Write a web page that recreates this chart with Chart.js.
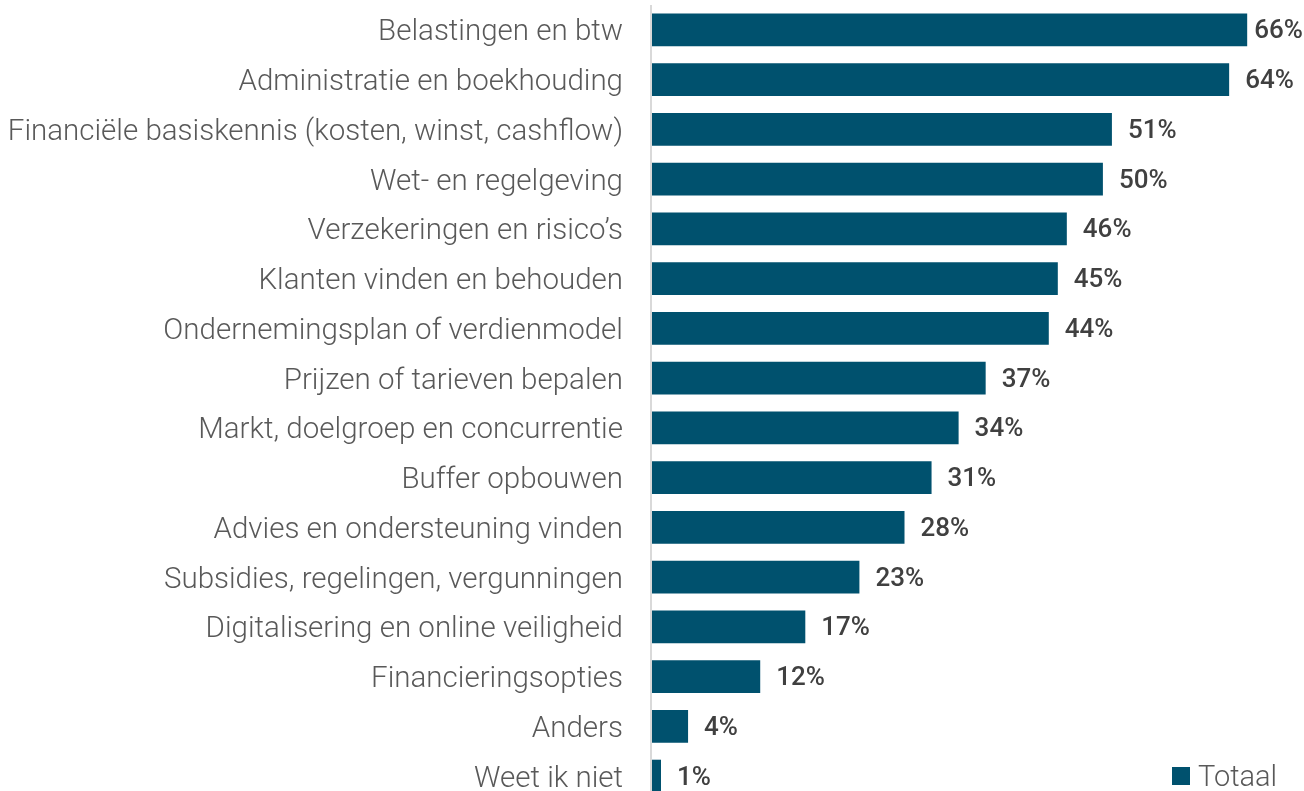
<!DOCTYPE html>
<html>
<head>
<meta charset="utf-8">
<script src="https://cdn.jsdelivr.net/npm/chart.js@4/dist/chart.umd.min.js"></script>
<style>
  html, body { margin: 0; padding: 0; background: #fff; overflow: hidden; }
  #wrap { position: relative; width: 1304px; height: 801px; }
  #legend {
    position: absolute; left: 1172px; top: 759px;
    font-family: Roboto, sans-serif; font-weight: 300; font-size: 29px; color: #595959;
    display: flex; align-items: center;
  }
  #legend span.box { width: 18px; height: 18px; background: #00516e; display: inline-block; margin-right: 8px; }
</style>
</head>
<body>
<div id="wrap">
  <canvas id="chart"></canvas>
  <div id="legend"><span class="box"></span>Totaal</div>
</div>
<script>
// ── Data ──
const categories = [
  'Belastingen en btw',
  'Administratie en boekhouding',
  'Financiële basiskennis (kosten, winst, cashflow)',
  'Wet- en regelgeving',
  'Verzekeringen en risico’s',
  'Klanten vinden en behouden',
  'Ondernemingsplan of verdienmodel',
  'Prijzen of tarieven bepalen',
  'Markt, doelgroep en concurrentie',
  'Buffer opbouwen',
  'Advies en ondersteuning vinden',
  'Subsidies, regelingen, vergunningen',
  'Digitalisering en online veiligheid',
  'Financieringsopties',
  'Anders',
  'Weet ik niet'
];
const totaal = [66, 64, 51, 50, 46, 45, 44, 37, 34, 31, 28, 23, 17, 12, 4, 1];

const BAR_COLOR = '#00516e';

/* ── Value labels at the end of each bar ── */
const valueLabels = {
  id: 'valueLabels',
  afterDatasetsDraw(chart) {
    const ctx = chart.ctx;
    const meta = chart.getDatasetMeta(0);
    ctx.save();
    ctx.font = '500 26px Roboto';
    ctx.fillStyle = '#404040';
    ctx.textAlign = 'left';
    ctx.textBaseline = 'middle';
    meta.data.forEach((bar, i) => {
      const txt = totaal[i] + '%';
      const w = ctx.measureText(txt).width;
      // keep labels inside the canvas (the long bars get pushed back)
      const x = Math.min(bar.x + 16, chart.width - w - 1);
      ctx.fillText(txt, x, bar.y + 2);
    });
    ctx.restore();
  }
};

/* ── Vertical axis line ── */
const axisLine = {
  id: 'axisLine',
  beforeDatasetsDraw(chart) {
    const { ctx, chartArea } = chart;
    ctx.save();
    ctx.strokeStyle = '#d9d9d9';
    ctx.lineWidth = 2;
    ctx.beginPath();
    ctx.moveTo(chartArea.left - 1, 5);
    ctx.lineTo(chartArea.left - 1, chart.height);
    ctx.stroke();
    ctx.restore();
  }
};

new Chart(document.getElementById('chart'), {
  type: 'bar',
  data: {
    labels: categories,
    datasets: [{
      label: 'Totaal',
      data: totaal,
      backgroundColor: BAR_COLOR,
      barPercentage: 0.66,
      categoryPercentage: 1.0
    }]
  },
  options: {
    indexAxis: 'y',
    responsive: true,
    maintainAspectRatio: false,
    animation: false,
    layout: { padding: { top: 5, right: 0, bottom: 0, left: 0 } },
    plugins: {
      legend: { display: false },
      tooltip: { enabled: false }
    },
    scales: {
      x: {
        display: false,
        min: 0,
        max: 72.3
      },
      y: {
        grid: { display: false, drawTicks: false },
        border: { display: false },
        ticks: {
          color: '#595959',
          padding: 29,
          labelOffset: 3,
          font: { family: 'Roboto', weight: 300, size: 29.5 }
        },
        afterFit(axis) {
          axis.width = 652;
          axis.paddingTop = 0;
          axis.paddingBottom = 0;
        }
      }
    }
  },
  plugins: [valueLabels, axisLine]
});
</script>
</body>
</html>
